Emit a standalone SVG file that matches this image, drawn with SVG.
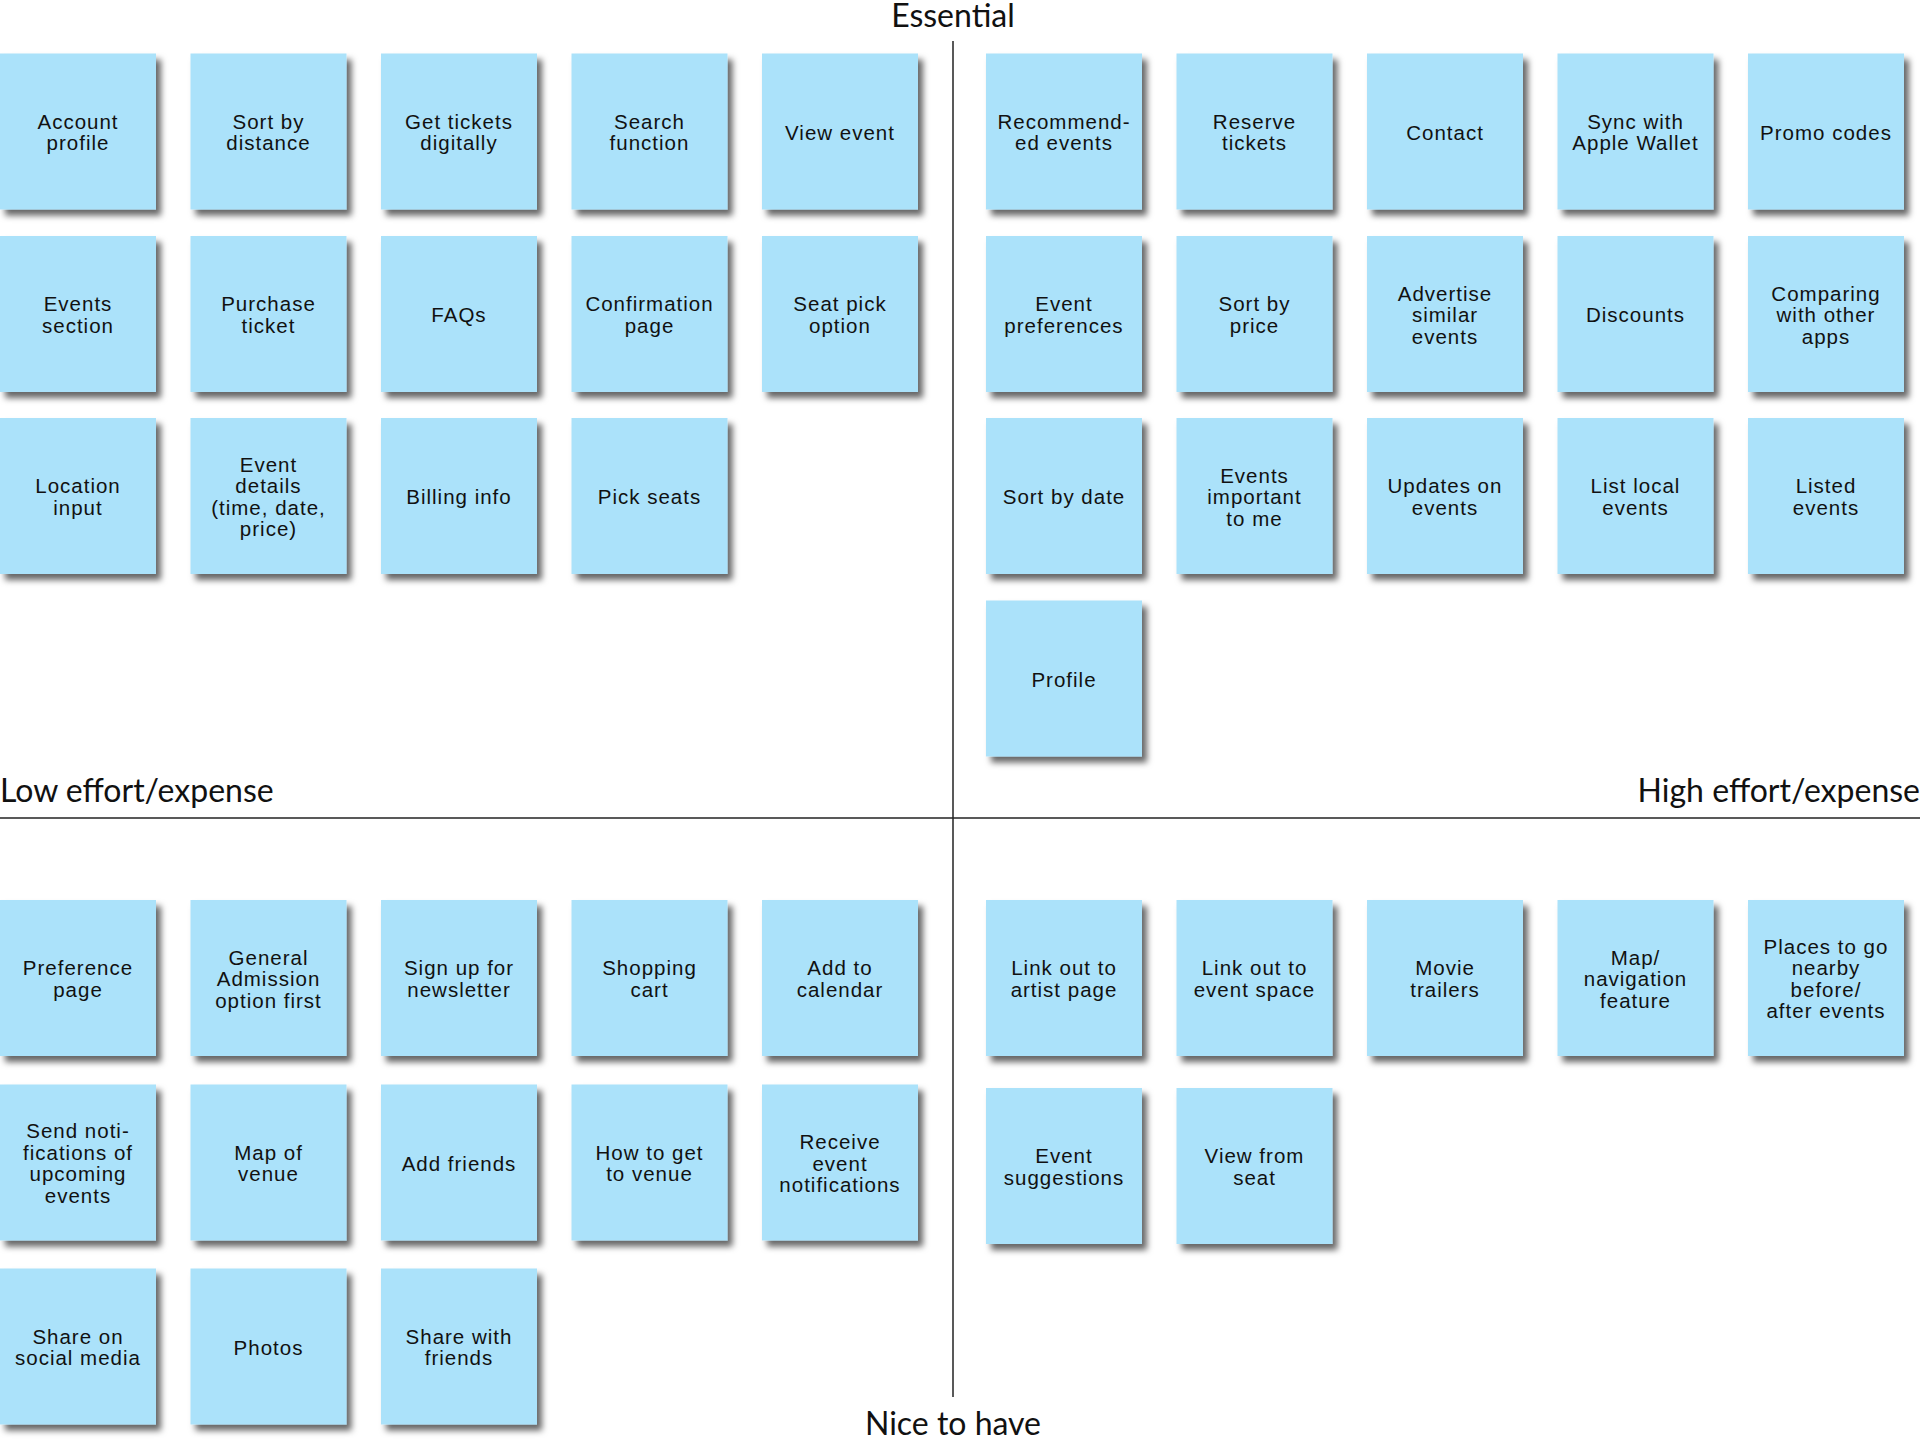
<svg xmlns="http://www.w3.org/2000/svg" width="1920" height="1440" viewBox="0 0 1920 1440">
<defs>
<filter id="sh" x="-10%" y="-10%" width="130%" height="130%">
<feDropShadow dx="5" dy="6" stdDeviation="3" flood-color="#000" flood-opacity="0.6"/>
</filter>
<style>
.n rect{fill:#abe2fa;filter:url(#sh);}
.n text{font-family:"Liberation Sans",Arial,sans-serif;font-size:20.5px;letter-spacing:1px;fill:#111;text-anchor:middle;}
.ax{stroke:#222;stroke-width:1.5;fill:none;}
.lb{font-family:Lato,"Liberation Sans",sans-serif;font-size:32px;fill:#111;}
</style>
</defs>
<rect width="1920" height="1440" fill="#fff"/>
<g id="axes">
<line class="ax" x1="953" y1="41" x2="953" y2="1397"/>
<line class="ax" x1="0" y1="818" x2="1920" y2="818"/>
</g>
<g id="labels">
<text class="lb" x="953" y="27" text-anchor="middle">Essential</text>
<text class="lb" x="953" y="1435" text-anchor="middle">Nice to have</text>
<text class="lb" x="0" y="802">Low effort/expense</text>
<text class="lb" x="1920" y="802" text-anchor="end">High effort/expense</text>
</g>
<g id="nodes">
<g id="account-profile" class="n"><rect x="0" y="53.5" width="156" height="156"/><text x="78" y="128.5">Account<tspan x="78" dy="21.5">profile</tspan></text></g>
<g id="sort-by-distance" class="n"><rect x="190.5" y="53.5" width="156" height="156"/><text x="268.5" y="128.5">Sort by<tspan x="268.5" dy="21.5">distance</tspan></text></g>
<g id="get-tickets-digitally" class="n"><rect x="381" y="53.5" width="156" height="156"/><text x="459" y="128.5">Get tickets<tspan x="459" dy="21.5">digitally</tspan></text></g>
<g id="search-function" class="n"><rect x="571.5" y="53.5" width="156" height="156"/><text x="649.5" y="128.5">Search<tspan x="649.5" dy="21.5">function</tspan></text></g>
<g id="view-event" class="n"><rect x="762" y="53.5" width="156" height="156"/><text x="840" y="139.5">View event</text></g>
<g id="events-section" class="n"><rect x="0" y="236" width="156" height="156"/><text x="78" y="311">Events<tspan x="78" dy="21.5">section</tspan></text></g>
<g id="purchase-ticket" class="n"><rect x="190.5" y="236" width="156" height="156"/><text x="268.5" y="311">Purchase<tspan x="268.5" dy="21.5">ticket</tspan></text></g>
<g id="faqs" class="n"><rect x="381" y="236" width="156" height="156"/><text x="459" y="322">FAQs</text></g>
<g id="confirmation-page" class="n"><rect x="571.5" y="236" width="156" height="156"/><text x="649.5" y="311">Confirmation<tspan x="649.5" dy="21.5">page</tspan></text></g>
<g id="seat-pick-option" class="n"><rect x="762" y="236" width="156" height="156"/><text x="840" y="311">Seat pick<tspan x="840" dy="21.5">option</tspan></text></g>
<g id="location-input" class="n"><rect x="0" y="418" width="156" height="156"/><text x="78" y="493">Location<tspan x="78" dy="21.5">input</tspan></text></g>
<g id="event-details" class="n"><rect x="190.5" y="418" width="156" height="156"/><text x="268.5" y="471.5">Event<tspan x="268.5" dy="21.5">details</tspan><tspan x="268.5" dy="21.5">(time, date,</tspan><tspan x="268.5" dy="21.5">price)</tspan></text></g>
<g id="billing-info" class="n"><rect x="381" y="418" width="156" height="156"/><text x="459" y="504">Billing info</text></g>
<g id="pick-seats" class="n"><rect x="571.5" y="418" width="156" height="156"/><text x="649.5" y="504">Pick seats</text></g>
<g id="recommended-events" class="n"><rect x="986" y="53.5" width="156" height="156"/><text x="1064" y="128.5">Recommend-<tspan x="1064" dy="21.5">ed events</tspan></text></g>
<g id="reserve-tickets" class="n"><rect x="1176.5" y="53.5" width="156" height="156"/><text x="1254.5" y="128.5">Reserve<tspan x="1254.5" dy="21.5">tickets</tspan></text></g>
<g id="contact" class="n"><rect x="1367" y="53.5" width="156" height="156"/><text x="1445" y="139.5">Contact</text></g>
<g id="sync-apple-wallet" class="n"><rect x="1557.5" y="53.5" width="156" height="156"/><text x="1635.5" y="128.5">Sync with<tspan x="1635.5" dy="21.5">Apple Wallet</tspan></text></g>
<g id="promo-codes" class="n"><rect x="1748" y="53.5" width="156" height="156"/><text x="1826" y="139.5">Promo codes</text></g>
<g id="event-preferences" class="n"><rect x="986" y="236" width="156" height="156"/><text x="1064" y="311">Event<tspan x="1064" dy="21.5">preferences</tspan></text></g>
<g id="sort-by-price" class="n"><rect x="1176.5" y="236" width="156" height="156"/><text x="1254.5" y="311">Sort by<tspan x="1254.5" dy="21.5">price</tspan></text></g>
<g id="advertise-similar" class="n"><rect x="1367" y="236" width="156" height="156"/><text x="1445" y="300.5">Advertise<tspan x="1445" dy="21.5">similar</tspan><tspan x="1445" dy="21.5">events</tspan></text></g>
<g id="discounts" class="n"><rect x="1557.5" y="236" width="156" height="156"/><text x="1635.5" y="322">Discounts</text></g>
<g id="comparing-apps" class="n"><rect x="1748" y="236" width="156" height="156"/><text x="1826" y="300.5">Comparing<tspan x="1826" dy="21.5">with other</tspan><tspan x="1826" dy="21.5">apps</tspan></text></g>
<g id="sort-by-date" class="n"><rect x="986" y="418" width="156" height="156"/><text x="1064" y="504">Sort by date</text></g>
<g id="events-important" class="n"><rect x="1176.5" y="418" width="156" height="156"/><text x="1254.5" y="482.5">Events<tspan x="1254.5" dy="21.5">important</tspan><tspan x="1254.5" dy="21.5">to me</tspan></text></g>
<g id="updates-on-events" class="n"><rect x="1367" y="418" width="156" height="156"/><text x="1445" y="493">Updates on<tspan x="1445" dy="21.5">events</tspan></text></g>
<g id="list-local-events" class="n"><rect x="1557.5" y="418" width="156" height="156"/><text x="1635.5" y="493">List local<tspan x="1635.5" dy="21.5">events</tspan></text></g>
<g id="listed-events" class="n"><rect x="1748" y="418" width="156" height="156"/><text x="1826" y="493">Listed<tspan x="1826" dy="21.5">events</tspan></text></g>
<g id="profile" class="n"><rect x="986" y="600.5" width="156" height="156"/><text x="1064" y="686.5">Profile</text></g>
<g id="preference-page" class="n"><rect x="0" y="900" width="156" height="156"/><text x="78" y="975">Preference<tspan x="78" dy="21.5">page</tspan></text></g>
<g id="general-admission" class="n"><rect x="190.5" y="900" width="156" height="156"/><text x="268.5" y="964.5">General<tspan x="268.5" dy="21.5">Admission</tspan><tspan x="268.5" dy="21.5">option first</tspan></text></g>
<g id="sign-up-newsletter" class="n"><rect x="381" y="900" width="156" height="156"/><text x="459" y="975">Sign up for<tspan x="459" dy="21.5">newsletter</tspan></text></g>
<g id="shopping-cart" class="n"><rect x="571.5" y="900" width="156" height="156"/><text x="649.5" y="975">Shopping<tspan x="649.5" dy="21.5">cart</tspan></text></g>
<g id="add-to-calendar" class="n"><rect x="762" y="900" width="156" height="156"/><text x="840" y="975">Add to<tspan x="840" dy="21.5">calendar</tspan></text></g>
<g id="send-notifications" class="n"><rect x="0" y="1084.5" width="156" height="156"/><text x="78" y="1138">Send noti-<tspan x="78" dy="21.5">fications of</tspan><tspan x="78" dy="21.5">upcoming</tspan><tspan x="78" dy="21.5">events</tspan></text></g>
<g id="map-of-venue" class="n"><rect x="190.5" y="1084.5" width="156" height="156"/><text x="268.5" y="1159.5">Map of<tspan x="268.5" dy="21.5">venue</tspan></text></g>
<g id="add-friends" class="n"><rect x="381" y="1084.5" width="156" height="156"/><text x="459" y="1170.5">Add friends</text></g>
<g id="how-to-get-to-venue" class="n"><rect x="571.5" y="1084.5" width="156" height="156"/><text x="649.5" y="1159.5">How to get<tspan x="649.5" dy="21.5">to venue</tspan></text></g>
<g id="receive-notifications" class="n"><rect x="762" y="1084.5" width="156" height="156"/><text x="840" y="1149">Receive<tspan x="840" dy="21.5">event</tspan><tspan x="840" dy="21.5">notifications</tspan></text></g>
<g id="share-social-media" class="n"><rect x="0" y="1268.5" width="156" height="156"/><text x="78" y="1343.5">Share on<tspan x="78" dy="21.5">social media</tspan></text></g>
<g id="photos" class="n"><rect x="190.5" y="1268.5" width="156" height="156"/><text x="268.5" y="1354.5">Photos</text></g>
<g id="share-with-friends" class="n"><rect x="381" y="1268.5" width="156" height="156"/><text x="459" y="1343.5">Share with<tspan x="459" dy="21.5">friends</tspan></text></g>
<g id="link-artist-page" class="n"><rect x="986" y="900" width="156" height="156"/><text x="1064" y="975">Link out to<tspan x="1064" dy="21.5">artist page</tspan></text></g>
<g id="link-event-space" class="n"><rect x="1176.5" y="900" width="156" height="156"/><text x="1254.5" y="975">Link out to<tspan x="1254.5" dy="21.5">event space</tspan></text></g>
<g id="movie-trailers" class="n"><rect x="1367" y="900" width="156" height="156"/><text x="1445" y="975">Movie<tspan x="1445" dy="21.5">trailers</tspan></text></g>
<g id="map-navigation" class="n"><rect x="1557.5" y="900" width="156" height="156"/><text x="1635.5" y="964.5">Map/<tspan x="1635.5" dy="21.5">navigation</tspan><tspan x="1635.5" dy="21.5">feature</tspan></text></g>
<g id="places-nearby" class="n"><rect x="1748" y="900" width="156" height="156"/><text x="1826" y="953.5">Places to go<tspan x="1826" dy="21.5">nearby</tspan><tspan x="1826" dy="21.5">before/</tspan><tspan x="1826" dy="21.5">after events</tspan></text></g>
<g id="event-suggestions" class="n"><rect x="986" y="1088" width="156" height="156"/><text x="1064" y="1163">Event<tspan x="1064" dy="21.5">suggestions</tspan></text></g>
<g id="view-from-seat" class="n"><rect x="1176.5" y="1088" width="156" height="156"/><text x="1254.5" y="1163">View from<tspan x="1254.5" dy="21.5">seat</tspan></text></g>
</g>
</svg>
